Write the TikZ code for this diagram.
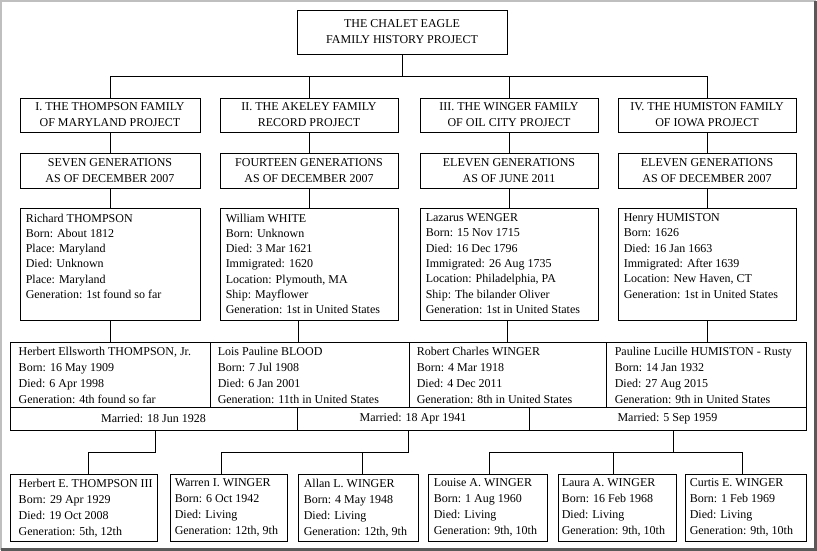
\documentclass[tikz,border=0pt]{standalone}
\usepackage{fontspec}
\setmainfont{Liberation Serif}
\begin{document}
\begin{tikzpicture}[x=1pt,y=-1pt,
  bx/.style={draw,line width=0.9pt,inner sep=0pt},
  tx/.style={anchor=north west,align=left,inner sep=0pt,font=\fontsize{12}{16}\selectfont},
  txd/.style={tx,font=\fontsize{12}{15.3}\selectfont},
  ct/.style={align=center,inner sep=0pt,font=\fontsize{12}{16}\selectfont},
  ln/.style={line width=0.9pt}]
\useasboundingbox (0,0) rectangle (817,551);
\fill[white] (0,0) rectangle (817,551);
\draw[gray!50,line width=2pt] (1,550) -- (1,1) -- (816,1);
\draw[gray!70!black,line width=3pt] (1,549.5) -- (815.5,549.5) -- (815.5,1);
\newcommand{\bxr}[5]{\node[bx,minimum width=#4-#2,minimum height=#5-#3] (#1) at ({(#2+#4)/2},{(#3+#5)/2}) {};}
% top
\bxr{top}{297}{10}{507}{54}
\node[ct] at (top) {THE CHALET EAGLE\\FAMILY HISTORY PROJECT};
% projects
\foreach \n/\a/\b in {1/20/200,2/220/398,3/420/598,4/618/796}{
  \bxr{p\n}{\a}{98}{\b}{132}
  \bxr{g\n}{\a}{153}{\b}{188}
  \bxr{d\n}{\a}{208}{\b}{320}
  \draw[ln] (p\n.south) -- (g\n.north);
  \draw[ln] (g\n.south) -- (d\n.north);
}
\node[ct] at (p1) {I. THE THOMPSON FAMILY\\OF MARYLAND PROJECT};
\node[ct] at (p2) {II. THE AKELEY FAMILY\\RECORD PROJECT};
\node[ct] at (p3) {III. THE WINGER FAMILY\\OF OIL CITY PROJECT};
\node[ct] at (p4) {IV. THE HUMISTON FAMILY\\OF IOWA PROJECT};
\node[ct] at (g1) {SEVEN GENERATIONS\\AS OF DECEMBER 2007};
\node[ct] at (g2) {FOURTEEN GENERATIONS\\AS OF DECEMBER 2007};
\node[ct] at (g3) {ELEVEN GENERATIONS\\AS OF JUNE 2011};
\node[ct] at (g4) {ELEVEN GENERATIONS\\AS OF DECEMBER 2007};
\coordinate (hb) at (0,76);
\draw[ln] (top.south) -- (top.south |- hb);
\draw[ln] (p1.north) -- (p1.north |- hb) -- (p4.north |- hb) -- (p4.north);
\draw[ln] (p2.north) -- (p2.north |- hb);
\draw[ln] (p3.north) -- (p3.north |- hb);
\node[txd] at ([xshift=6pt,yshift=-6pt]d1.north west) {Richard THOMPSON\\Born: About 1812\\Place: Maryland\\Died: Unknown\\Place: Maryland\\Generation: 1st found so far};
\node[txd] at ([xshift=6pt,yshift=-6pt]d2.north west) {William WHITE\\Born: Unknown\\Died: 3 Mar 1621\\Immigrated: 1620\\Location: Plymouth, MA\\Ship: Mayflower\\Generation: 1st in United States};
\node[txd] at ([xshift=6pt,yshift=-6pt]d3.north west) {Lazarus WENGER\\Born: 15 Nov 1715\\Died: 16 Dec 1796\\Immigrated: 26 Aug 1735\\Location: Philadelphia, PA\\Ship: The bilander Oliver\\Generation: 1st in United States};
\node[txd] at ([xshift=6pt,yshift=-6pt]d4.north west) {Henry HUMISTON\\Born: 1626\\Died: 16 Jan 1663\\Immigrated: After 1639\\Location: New Haven, CT\\Generation: 1st in United States};
% couples
\bxr{c1}{10}{342}{210}{407}
\bxr{c2}{210}{342}{409}{407}
\bxr{c3}{409}{342}{606}{407}
\bxr{c4}{606}{342}{806}{407}
\bxr{m1}{10}{407}{297}{430}
\bxr{m2}{297}{407}{529}{430}
\bxr{m3}{529}{407}{806}{430}
\node[tx] at ([xshift=9pt,yshift=-5pt]c1.north west) {Herbert Ellsworth THOMPSON, Jr.\\Born: 16 May 1909\\Died: 6 Apr 1998\\Generation: 4th found so far};
\node[tx] at ([xshift=8pt,yshift=-5pt]c2.north west) {Lois Pauline BLOOD\\Born: 7 Jul 1908\\Died: 6 Jan 2001\\Generation: 11th in United States};
\node[tx] at ([xshift=8pt,yshift=-5pt]c3.north west) {Robert Charles WINGER\\Born: 4 Mar 1918\\Died: 4 Dec 2011\\Generation: 8th in United States};
\node[tx] at ([xshift=9pt,yshift=-5pt]c4.north west) {Pauline Lucille HUMISTON - Rusty\\Born: 14 Jan 1932\\Died: 27 Aug 2015\\Generation: 9th in United States};
\node[ct] at (m1) {Married: 18 Jun 1928};
\node[ct] at (m2) {Married: 18 Apr 1941};
\node[ct] at (m3) {Married: 5 Sep 1959};
\draw[ln] (d1.south) -- (d1.south |- c1.north);
\draw[ln] (298,320) coordinate (d2b) -- (d2b |- c2.north);
\draw[ln] (507,320) coordinate (d3b) -- (d3b |- c3.north);
\draw[ln] (d4.south) -- (d4.south |- c4.north);
% children
\bxr{k1}{10}{474}{157}{541}
\bxr{k2}{170}{474}{287}{541}
\bxr{k3}{298}{474}{418}{541}
\bxr{k4}{428}{474}{547}{541}
\bxr{k5}{558}{474}{676}{541}
\bxr{k6}{685}{474}{806}{541}
\node[tx] at ([xshift=9pt,yshift=-5pt]k1.north west) {Herbert E. THOMPSON III\\Born: 29 Apr 1929\\Died: 19 Oct 2008\\Generation: 5th, 12th};
\node[tx] at ([xshift=5pt,yshift=-5pt]k2.north west) {Warren I. WINGER\\Born: 6 Oct 1942\\Died: Living\\Generation: 12th, 9th};
\node[tx] at ([xshift=6pt,yshift=-5pt]k3.north west) {Allan L. WINGER\\Born: 4 May 1948\\Died: Living\\Generation: 12th, 9th};
\node[tx] at ([xshift=6pt,yshift=-5pt]k4.north west) {Louise A. WINGER\\Born: 1 Aug 1960\\Died: Living\\Generation: 9th, 10th};
\node[tx] at ([xshift=4pt,yshift=-5pt]k5.north west) {Laura A. WINGER\\Born: 16 Feb 1968\\Died: Living\\Generation: 9th, 10th};
\node[tx] at ([xshift=5pt,yshift=-5pt]k6.north west) {Curtis E. WINGER\\Born: 1 Feb 1969\\Died: Living\\Generation: 9th, 10th};
\coordinate (hc) at (0,452);
\draw[ln] (155,430) coordinate (a1) -- (a1 |- hc) -- (88,452) coordinate (b1) -- (b1 |- k1.north);
\draw[ln] (408,430) coordinate (a2) -- (a2 |- hc) -- (221,452) coordinate (b2) -- (b2 |- k2.north);
\draw[ln] (362,452) coordinate (b3) -- (b3 |- k3.north);
\draw[ln] (673,430) coordinate (a3) -- (a3 |- hc);
\draw[ln] (489,474) coordinate (b4) -- (b4 |- hc) -- (742,452) coordinate (b6) -- (b6 |- k6.north);
\draw[ln] (613,452) coordinate (b5) -- (b5 |- k5.north);
\end{tikzpicture}
\end{document}
